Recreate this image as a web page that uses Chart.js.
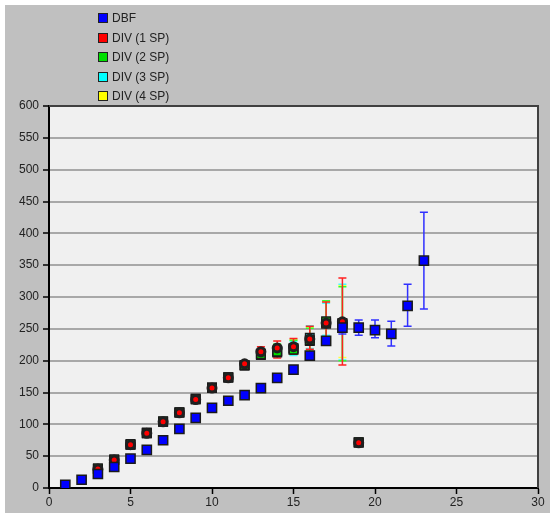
<!DOCTYPE html>
<html>
<head>
  <meta charset="UTF-8">
  <title>DBF vs DIV</title>
  <script src="https://cdn.jsdelivr.net/npm/chart.js"></script>
  <style>
    body { margin: 0; background: #fff; font-family: "Liberation Sans", Arial, sans-serif; }
    #panel { position: absolute; left: 5px; top: 5px; width: 545px; height: 508px; background: #c0c0c0; }
    #chart { position: absolute; left: 0; top: 0; }
    #legend { position: absolute; left: 93px; top: 4px; font-size: 12px; color: #222; }
    .item { height: 19.6px; line-height: 19.6px; white-space: nowrap; }
    .sw { display: inline-block; width: 8px; height: 8px; border: 1px solid #222; margin-right: 4px; vertical-align: -1px; }
  </style>
</head>
<body>
  <div id="panel">
    <canvas id="chart" width="545" height="508"></canvas>
    <div id="legend"></div>
  </div>

  <script>
    // series names + colours
    const seriesNames = ['DBF', 'DIV (1 SP)', 'DIV (2 SP)', 'DIV (3 SP)', 'DIV (4 SP)'];
    const seriesColors = ['#0000ff', '#ff0000', '#00e000', '#00ffff', '#ffff00'];

    // DBF
    const dbfX = [1, 2, 3, 4, 5, 6, 7, 8, 9, 10, 11, 12, 13, 14, 15, 16, 17, 18, 19, 20, 21, 22, 23];
    const dbfY = [5, 13, 22, 33, 46, 60, 75, 93, 110, 126, 137, 146, 157, 173, 186, 208, 231, 252, 252, 248, 242, 286, 357];
    const dbfLow  = [null, null, null, null, null, null, null, null, null, null, null, null, null, null, null, null, null, 242, 240, 236, 223, 254, 281];
    const dbfHigh = [null, null, null, null, null, null, null, null, null, null, null, null, null, null, null, null, null, 262, 264, 264, 262, 320, 433];

    // DIV runs
    const divX  = [3, 4, 5, 6, 7, 8, 9, 10, 11, 12, 13, 14, 15, 16, 17, 18, 19];
    const div1Y = [30, 44, 68, 86, 104, 118, 139, 157, 173, 195, 214, 220, 222, 234, 259, 261, 71];
    const div2Y = [31, 45, 69, 87, 105, 119, 140, 158, 174, 193, 210, 214, 217, 232, 262, 258, 72];
    const div3Y = [30, 44, 68, 86, 104, 119, 140, 157, 173, 192, 209, 213, 218, 236, 260, 257, 71];
    const div4Y = [30, 44, 68, 86, 104, 118, 139, 158, 174, 193, 211, 215, 220, 231, 258, 259, 72];

    const div1Low  = [null, null, null, null, null, null, null, null, null, null, 207, 204, 210, 218, 229, 193, null];
    const div1High = [null, null, null, null, null, null, null, null, null, null, 222, 231, 235, 254, 292, 330, null];
    const div2Low  = [null, null, null, null, null, null, null, null, null, null, null, 210, 212, 214, 236, 200, null];
    const div2High = [null, null, null, null, null, null, null, null, null, null, null, 226, 232, 251, 294, 316, null];
    const div3Low  = [null, null, null, null, null, null, null, null, null, null, null, null, 208, 219, 240, 201, null];
    const div3High = [null, null, null, null, null, null, null, null, null, null, null, null, 230, 255, 290, 320, null];
    const div4Low  = [null, null, null, null, null, null, null, null, null, null, null, null, 209, 216, 238, 205, null];
    const div4High = [null, null, null, null, null, null, null, null, null, null, null, null, 233, 252, 292, 318, null];

    const xTicks = [0, 5, 10, 15, 20, 25, 30];
    const yTicks = [0, 50, 100, 150, 200, 250, 300, 350, 400, 450, 500, 550, 600];

    function pts(xs, ys, lo, hi) {
      return xs.map((x, i) => ({ x: x, y: ys[i], lo: lo[i], hi: hi[i] }));
    }

    const series = [
      pts(dbfX, dbfY, dbfLow, dbfHigh),
      pts(divX, div1Y, div1Low, div1High),
      pts(divX, div2Y, div2Low, div2High),
      pts(divX, div3Y, div3Low, div3High),
      pts(divX, div4Y, div4Low, div4High)
    ];

    // legend (html, vertical)
    const legend = document.getElementById('legend');
    seriesNames.forEach((name, i) => {
      const row = document.createElement('div');
      row.className = 'item';
      row.innerHTML = '<span class="sw" style="background:' + seriesColors[i] + '"></span>' + name;
      legend.appendChild(row);
    });

    // plot background + top/right frame
    const frame = {
      id: 'frame',
      beforeDraw(chart) {
        const { ctx, chartArea: a } = chart;
        ctx.save();
        ctx.fillStyle = '#f0f0f0';
        ctx.fillRect(a.left, a.top, a.right - a.left, a.bottom - a.top);
        ctx.restore();
      },
      afterDraw(chart) {
        const { ctx, chartArea: a } = chart;
        ctx.save();
        ctx.strokeStyle = '#404040';
        ctx.lineWidth = 2;
        ctx.beginPath();
        ctx.moveTo(a.left, a.top);
        ctx.lineTo(a.right, a.top);
        ctx.lineTo(a.right, a.bottom);
        ctx.stroke();
        ctx.restore();
      }
    };

    // vertical error bars, under the markers
    const errorBars = {
      id: 'errorBars',
      beforeDatasetsDraw(chart) {
        const ctx = chart.ctx;
        const xs = chart.scales.x, ys = chart.scales.y;
        ctx.save();
        ctx.lineWidth = 1.5;
        for (let d = chart.data.datasets.length - 1; d >= 0; d--) {
          const ds = chart.data.datasets[d];
          ctx.strokeStyle = ds.barColor;
          ds.data.forEach(p => {
            if (p.lo == null) return;
            const px = xs.getPixelForValue(p.x);
            const top = ys.getPixelForValue(p.hi);
            const bot = ys.getPixelForValue(p.lo);
            ctx.beginPath();
            ctx.moveTo(px, top); ctx.lineTo(px, bot);
            ctx.moveTo(px - 4, top); ctx.lineTo(px + 4, top);
            ctx.moveTo(px - 4, bot); ctx.lineTo(px + 4, bot);
            ctx.stroke();
          });
        }
        ctx.restore();
      }
    };

    const barColors = ['#3030ff', '#ff2020', '#30ff30', '#40ffff', '#ffff40'];

    const datasets = series.map((data, i) => {
      const ds = {
        label: seriesNames[i],
        data: data,
        barColor: barColors[i],
        pointStyle: 'rect',
        pointRadius: 6,
        pointHoverRadius: 6,
        backgroundColor: seriesColors[i],
        borderColor: '#1a1a1a',
        borderWidth: 1.5,
        showLine: false
      };
      if (i === 0) { ds.pointRadius = 6.5; ds.pointHoverRadius = 6.5; }
      if (i === 1) {
        // red run drawn as a dark ring with red middle on top of the other DIV squares
        ds.pointStyle = 'circle';
        ds.pointRadius = 4;
        ds.pointHoverRadius = 4;
        ds.borderWidth = 3;
        ds.borderColor = '#202020';
      }
      return ds;
    });

    new Chart(document.getElementById('chart'), {
      type: 'scatter',
      data: { datasets: datasets },
      options: {
        responsive: false,
        animation: false,
        devicePixelRatio: 1,
        layout: { padding: { top: 101, right: 12, left: 0, bottom: 0 } },
        plugins: { legend: { display: false }, tooltip: { enabled: false } },
        scales: {
          x: {
            type: 'linear',
            min: 0, max: 30,
            afterBuildTicks: s => { s.ticks = xTicks.map(v => ({ value: v })); },
            afterFit: s => { s.height = 25; },
            ticks: { color: '#222', font: { family: 'Liberation Sans', size: 12 }, padding: 1, maxRotation: 0 },
            grid: { drawOnChartArea: false, drawTicks: true, tickLength: 6, tickColor: '#000', tickWidth: 1.5 },
            border: { color: '#000', width: 2 }
          },
          y: {
            min: 0, max: 600,
            afterBuildTicks: s => { s.ticks = yTicks.map(v => ({ value: v })); },
            afterFit: s => { s.width = 44; },
            ticks: { color: '#222', font: { family: 'Liberation Sans', size: 12 }, padding: 4 },
            grid: { color: '#a8a8a8', lineWidth: 2, drawTicks: true, tickLength: 6, tickColor: '#000', tickWidth: 1.5 },
            border: { color: '#000', width: 2 }
          }
        }
      },
      plugins: [frame, errorBars]
    });
  </script>
</body>
</html>
